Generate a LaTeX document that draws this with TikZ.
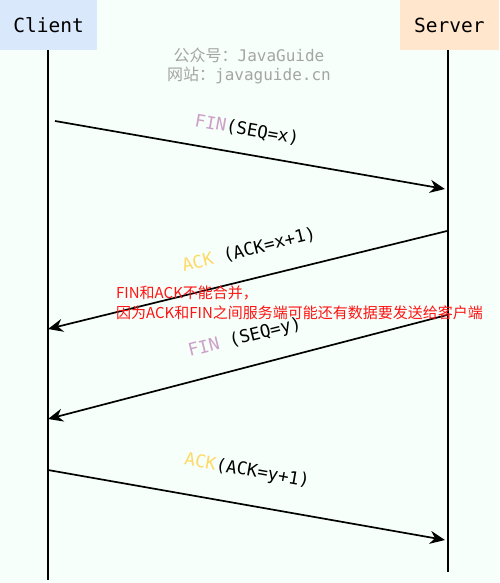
\documentclass[tikz,border=0pt]{standalone}
\usepackage{fontspec}
\setmonofont{DejaVu Sans Mono}
\newfontfamily\cjk{Noto Sans CJK SC}
\usetikzlibrary{arrows.meta}

\definecolor{bgmint}{RGB}{246,255,249}
\definecolor{clientblue}{RGB}{218,232,252}
\definecolor{serverpeach}{RGB}{255,230,204}
\definecolor{finpink}{RGB}{205,160,200}
\definecolor{ackyellow}{RGB}{255,217,102}
\definecolor{markgray}{RGB}{165,165,165}
\definecolor{notered}{RGB}{255,20,20}

\begin{document}
\begin{tikzpicture}[x=1pt,y=-1pt,
  party/.style={minimum height=50pt, inner sep=0pt, font=\ttfamily\fontsize{19.5}{19.5}\selectfont},
  life/.style={line width=1.7pt},
  msg/.style={line width=1.7pt, -{Stealth[length=15pt,width=13pt]}},
  lbl/.style={inner sep=0pt, font=\ttfamily\fontsize{17.5}{17.5}\selectfont},
  note/.style={anchor=west, inner sep=0pt, text=notered, font=\cjk\fontsize{15}{15}\selectfont}]
% Background
\fill[bgmint] (0,0) rectangle (499,583);

% Participants
\node[party, fill=clientblue, minimum width=97pt, anchor=north west] (client) at (0,0) {Client};
\node[party, fill=serverpeach, minimum width=99pt, anchor=north east] (server) at (499,0) {Server};

% Watermark
\node[text=markgray, font=\fontsize{16}{16}\selectfont] (mark1) at (249,55) {{\cjk 公众号：}\texttt{JavaGuide}};
\node[text=markgray, font=\fontsize{16}{16}\selectfont] (mark2) at (249,75) {{\cjk 网站：}\texttt{javaguide.cn}};

% Lifelines
\coordinate (clientend) at (48,580);
\coordinate (serverend) at (448,572);
\draw[life] (client.south -| clientend) -- (clientend);
\draw[life] (server.south -| serverend) -- (serverend);

% Messages
\coordinate (fin1s) at (55,121);
\coordinate (fin1e) at (445,189);
\coordinate (ack1s) at (447,231);
\coordinate (ack1e) at (48,329);
\coordinate (fin2s) at (447,315);
\coordinate (fin2e) at (48,419);
\coordinate (ack2s) at (48,470);
\coordinate (ack2e) at (445,540);
\draw[msg] (fin1s) -- (fin1e);
\draw[msg] (ack1s) -- (ack1e);
\draw[msg] (fin2s) -- (fin2e);
\draw[msg] (ack2s) -- (ack2e);

% Labels
\node[lbl, rotate=-10] (finlbl1) at (247,130) {{\color{finpink}FIN}(SEQ=x)};
\node[lbl, rotate=14] (acklbl1) at (249,250) {{\color{ackyellow}ACK} (ACK=x+1)};
\node[lbl, rotate=14] (finlbl2) at (245,338) {{\color{finpink}FIN} (SEQ=y)};
\node[lbl, rotate=-10] (acklbl2) at (247,471) {{\color{ackyellow}ACK}(ACK=y+1)};

% Note
\node[note] (note1) at (116,293) {FIN和ACK不能合并，};
\node[note] (note2) at (116,313) {因为ACK和FIN之间服务端可能还有数据要发送给客户端};
\end{tikzpicture}
\end{document}
